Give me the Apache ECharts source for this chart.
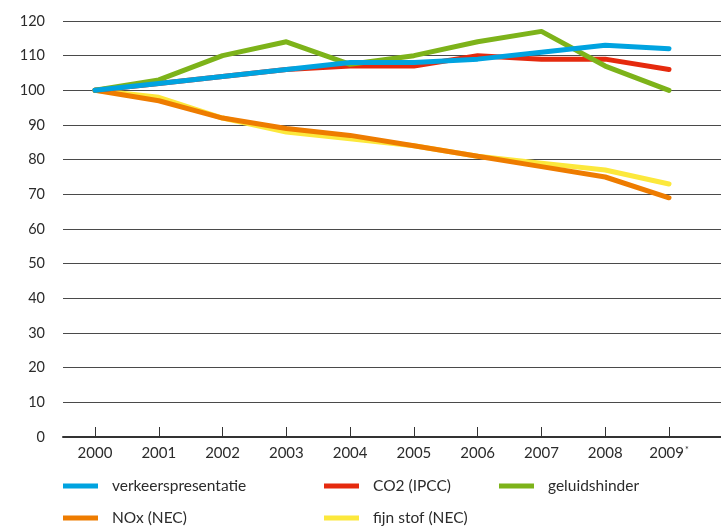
<!DOCTYPE html>
<html>
<head>
<meta charset="utf-8">
<script src="https://cdn.jsdelivr.net/npm/echarts@6/dist/echarts.min.js"></script>
<style>
html,body{margin:0;padding:0;background:#fff;}
#chart{width:721px;height:527px;}
</style>
</head>
<body>
<div id="chart"></div>
<script>
const years = ['2000','2001','2002','2003','2004','2005','2006','2007','2008','2009'];
const yTicks = [0,10,20,30,40,50,60,70,80,90,100,110,120];
const verkeersprestatie = [100,102,104,106,108,108,109,111,113,112];
const co2 = [100,102,104,106,107,107,110,109,109,106];
const geluidshinder = [100,103,110,114,107.5,110,114,117,107,100];
const nox = [100,97,92,89,87,84,81,78,75,69];
const fijnStof = [100,98,92,88,86,84,81,79,77,73];

const FONT = 'Lato';
const TXT = '#2b2b2b';
const chart = echarts.init(document.getElementById('chart'), null, {renderer:'canvas'});

function lineSeries(name, data, color, z){
  return {
    name: name, type: 'line', data: data, xAxisIndex: 1, yAxisIndex: 1,
    symbol: 'none', z: z,
    lineStyle: {color: color, width: 5, cap: 'round', join: 'round'},
    itemStyle: {color: color},
    emphasis: {disabled: true}
  };
}

const legendText = {color: TXT, fontFamily: FONT, fontSize: 15.5, lineHeight: 18, padding: [0,0,0,9]};
const legendBase = {orient:'vertical', icon:'rect', itemWidth:35, itemHeight:5, itemGap:14, top:477, height:120, padding:0, textStyle: legendText, selectedMode:false};

chart.setOption({
  animation: false,
  textStyle: {fontFamily: FONT},
  grid: [
    {left: 63, right: 0, top: 21, bottom: 90},
    {left: 95, right: 52, top: 21, bottom: 90}
  ],
  xAxis: [
    {gridIndex:0, type:'value', min:0, max:1, axisLine:{show:true, onZero:false, lineStyle:{color:'#333', width:2}},
     axisTick:{show:false}, axisLabel:{show:false}, splitLine:{show:false}},
    {gridIndex:1, type:'category', data: years, boundaryGap:false,
     axisLine:{show:false}, axisTick:{show:true, inside:true, length:10, interval:0, lineStyle:{color:'#333', width:1}},
     axisLabel:{color:TXT, fontSize:15, fontFamily:FONT, margin:9, interval:0,
       formatter: function(v){ return v === '2009' ? v + '{s|*}' : v; },
       rich:{s:{fontSize:9, verticalAlign:'top', color:TXT, padding:[0,0,6,1]}}},
     splitLine:{show:false}}
  ],
  yAxis: [
    {gridIndex:0, type:'value', min:yTicks[0], max:yTicks[yTicks.length-1], interval:10,
     axisLine:{show:false}, axisTick:{show:false},
     axisLabel:{color:TXT, fontSize:14.5, fontFamily:FONT, margin:18},
     splitLine:{show:true, lineStyle:{color:'#4a4a4a', width:1}}},
    {gridIndex:1, type:'value', min:yTicks[0], max:yTicks[yTicks.length-1], interval:10,
     axisLine:{show:false}, axisTick:{show:false}, axisLabel:{show:false}, splitLine:{show:false}}
  ],
  legend: [
    Object.assign({}, legendBase, {left:63, data:['verkeerspresentatie','NOx (NEC)']}),
    Object.assign({}, legendBase, {left:324, data:['CO2 (IPCC)','fijn stof (NEC)']}),
    Object.assign({}, legendBase, {left:499, data:['geluidshinder']})
  ],
  series: [
    lineSeries('verkeerspresentatie', verkeersprestatie, '#00A3E0', 10),
    lineSeries('CO2 (IPCC)', co2, '#E52A0E', 6),
    lineSeries('geluidshinder', geluidshinder, '#7DB31A', 8),
    lineSeries('NOx (NEC)', nox, '#EE7C00', 4),
    lineSeries('fijn stof (NEC)', fijnStof, '#FCE83C', 2)
  ]
});
</script>
</body>
</html>
